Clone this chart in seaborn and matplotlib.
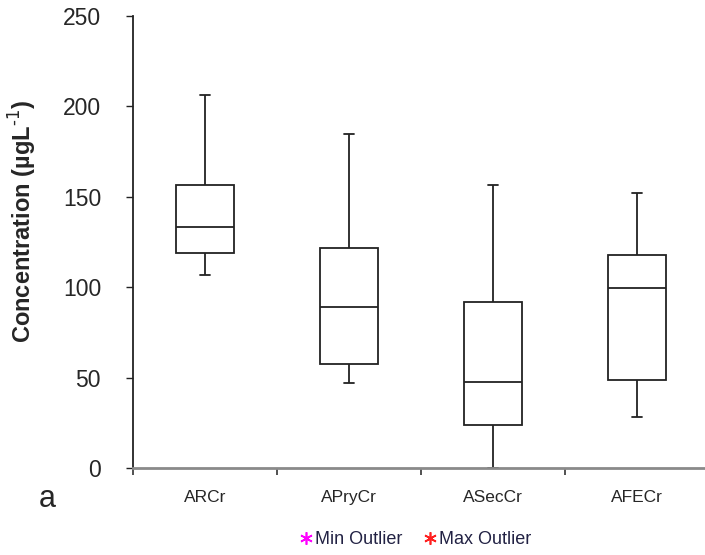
#!/bin/python3

# imports
import pandas as pd
import seaborn as sns
import numpy as np
from matplotlib import pyplot as plt
from matplotlib.lines import Line2D

# five-number summaries (min, q1, median, q3, max)
categories = ['ARCr', 'APryCr', 'ASecCr', 'AFECr']
arcr = [107.0, 118.7, 133.5, 156.3, 206.5]
aprycr = [47.0, 57.7, 88.9, 121.7, 185.0]
aseccr = [0.0, 23.9, 47.8, 92.0, 156.4]
afecr = [28.2, 48.8, 99.8, 117.7, 152.3]
y_ticks = [0, 50, 100, 150, 200, 250]

sns.set_style('ticks')
plt.rcParams['font.family'] = ['Liberation Sans', 'DejaVu Sans']

# long form table for seaborn
df = pd.DataFrame({
    'site': np.repeat(categories, 5),
    'conc': arcr + aprycr + aseccr + afecr,
})

fig = plt.figure(figsize=(7.05, 5.55), dpi=100)
ax = fig.add_axes([133 / 705, 1 - 468 / 555, 576 / 705, 452 / 555])

sns.boxplot(data=df, x='site', y='conc', order=categories, ax=ax,
            whis=(0, 100), width=0.4, fill=True, color='white',
            linecolor='#222222', linewidth=1.3, saturation=1,
            capwidths=0.07, showfliers=False)

ax.set_xlim(-0.5, 3.5)
ax.set_ylim(0, 250)
ax.set_yticks(y_ticks)
ax.set_yticklabels([str(v) for v in y_ticks], fontsize=16.5)
ax.tick_params(axis='y', length=5, width=1, pad=18, color='#222222')

# category labels centred, tick marks on the boundaries
ax.set_xticks(np.arange(len(categories)))
ax.set_xticklabels(categories, fontsize=12.5)
ax.set_xticks(np.arange(len(categories)) - 0.5, minor=True)
ax.tick_params(axis='x', which='major', length=0, pad=16)
ax.tick_params(axis='x', which='minor', length=5, width=1.2, color='#333333')

ax.set_xlabel('')
ax.set_ylabel('Concentration (µgL$^{\\text{-1}}$)', fontsize=17, fontweight='bold')
ax.yaxis.set_label_coords(-0.163, 0.545)

for side in ['top', 'right']:
    ax.spines[side].set_visible(False)
ax.spines['left'].set_color('#222222')
ax.spines['left'].set_linewidth(1.3)
ax.spines['bottom'].set_color('#8a8a8a')
ax.spines['bottom'].set_linewidth(2)
ax.spines['bottom'].set_zorder(5)

fig.text(47 / 705, 1 - 499 / 555, 'a', fontsize=22, ha='center', va='center')

# legend for the (empty) outlier series
handles = [
    Line2D([], [], linestyle='none', marker=(6, 2, 0), markersize=9,
           markeredgewidth=1.2, color='#ff00ff', label='Min Outlier'),
    Line2D([], [], linestyle='none', marker=(6, 2, 0), markersize=9,
           markeredgewidth=1.2, color='#ff2020', label='Max Outlier'),
]
fig.legend(handles=handles, loc='center', bbox_to_anchor=(414 / 705, 1 - 540 / 555),
           ncol=2, frameon=False, fontsize=13, handletextpad=0.0,
           columnspacing=1.0, handlelength=1.0, labelcolor='#222244')

plt.savefig('out.png', dpi=100)
plt.close()
